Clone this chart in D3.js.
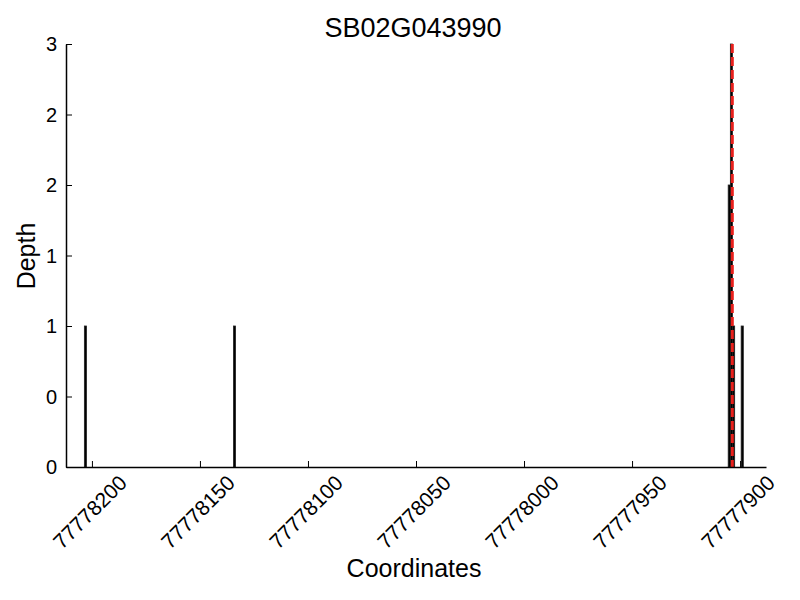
<!DOCTYPE html>
<html>
<head>
<meta charset="utf-8">
<script src="https://cdn.jsdelivr.net/npm/d3@7"></script>
<style>
  body { margin: 0; background: #fff; }
  text { font-family: "Liberation Sans", Arial, Helvetica, sans-serif; fill: #000; }
</style>
</head>
<body>
<svg id="chart" width="800" height="600"></svg>
<script>
const title = "SB02G043990";
const xLabel = "Coordinates";
const yLabel = "Depth";
const positions = [77778203, 77778134, 77777905, 77777904, 77777903, 77777899];
const depths = [1, 1, 2, 3, 1, 1];
const markerPositions = [77777903.6];
const xTicks = [77778200, 77778150, 77778100, 77778050, 77778000, 77777950, 77777900];
const yTicks = [0, 0.5, 1, 1.5, 2, 2.5, 3];
const yTickLabels = ["0", "0", "1", "1", "2", "2", "3"];
const xDomain = [77778212, 77777888];
const yDomain = [0, 3];

const svg = d3.select("#chart");
const mLeft = 66, mRight = 766, mTop = 44, mBottom = 467;

const x = d3.scaleLinear().domain(xDomain).range([mLeft, mRight]);
const y = d3.scaleLinear().domain(yDomain).range([mBottom, mTop]);

// bars
svg.append("g").selectAll("rect").data(positions.map((p, i) => ({p, d: depths[i]})))
  .enter().append("rect")
  .attr("x", d => x(d.p + 0.5))
  .attr("width", d => x(d.p - 0.5) - x(d.p + 0.5))
  .attr("y", d => y(d.d))
  .attr("height", d => y(0) - y(d.d))
  .attr("fill", "#000")
  .attr("stroke", "#222")
  .attr("stroke-width", 0.8);

// marker line
svg.append("g").selectAll("line").data(markerPositions).enter().append("line")
  .attr("x1", d => x(d)).attr("x2", d => x(d))
  .attr("y1", y(3)).attr("y2", y(0))
  .attr("stroke", "#e8201c").attr("stroke-width", 3)
  .attr("stroke-dasharray", "9,4");

// axes
const xAxis = d3.axisBottom(x).tickValues(xTicks).tickSizeInner(-6).tickSizeOuter(0).tickFormat("");
const gx = svg.append("g").attr("transform", `translate(0,${mBottom})`).call(xAxis);
gx.select(".domain").attr("stroke", "#000").attr("stroke-width", 1.5);
gx.selectAll(".tick line").attr("stroke", "#000").attr("stroke-width", 1);

const yAxis = d3.axisLeft(y).tickValues(yTicks).tickSizeInner(-6).tickSizeOuter(0).tickFormat("");
const gy = svg.append("g").attr("transform", `translate(${mLeft},0)`).call(yAxis);
gy.select(".domain").attr("stroke", "#000").attr("stroke-width", 1.5);
gy.selectAll(".tick line").attr("stroke", "#000").attr("stroke-width", 1);

// x tick labels (rotated)
svg.append("g").selectAll("text").data(xTicks).enter().append("text")
  .attr("transform", d => `translate(${x(d) - 2},512) rotate(-45)`)
  .attr("text-anchor", "middle")
  .attr("dy", "0.35em")
  .attr("font-size", 21)
  .text(d => String(d));

// y tick labels
svg.append("g").selectAll("text").data(yTicks).enter().append("text")
  .attr("x", mLeft - 9)
  .attr("y", d => y(d))
  .attr("dy", "0.35em")
  .attr("text-anchor", "end")
  .attr("font-size", 20)
  .text((d, i) => yTickLabels[i]);

// title and labels
svg.append("text").attr("x", 413).attr("y", 37).attr("text-anchor", "middle")
  .attr("font-size", 27).text(title);
svg.append("text").attr("x", 414).attr("y", 577).attr("text-anchor", "middle")
  .attr("font-size", 25).text(xLabel);
svg.append("text").attr("transform", "translate(35,256) rotate(-90)").attr("text-anchor", "middle")
  .attr("font-size", 25).text(yLabel);
</script>
</body>
</html>
